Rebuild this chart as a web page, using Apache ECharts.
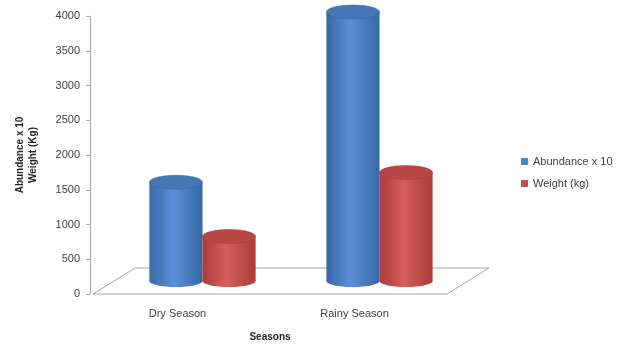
<!DOCTYPE html>
<html>
<head>
<meta charset="utf-8">
<script src="https://cdn.jsdelivr.net/npm/echarts@6/dist/echarts.min.js"></script>
<style>
  html, body { margin: 0; padding: 0; background: #fff; }
  #chart { width: 617px; height: 347px; }
</style>
</head>
<body>
<div id="chart"></div>
<script>
const categories = ['Dry Season', 'Rainy Season'];
const abundance = [1420, 3870];
const weight = [640, 1560];
const seriesNames = ['Abundance x 10', 'Weight (kg)'];

const font = 'Liberation Sans, Arial, sans-serif';
const depth = 13; // half depth of the 3D floor, px

// cylinder colours: edge, centre, top
const palette = [
  { base: '#4F81BD', edge: '#3767A6', mid: '#5B91D8', top: '#4576B5' },
  { base: '#C0504D', edge: '#A93B38', mid: '#D65F5B', top: '#B84744' }
]

function cylinder (side, colors) {
  return function (params, api) {
    const cat = api.value(0)
    const val = api.value(1)
    const base = api.coord([cat, 0])
    const top = api.coord([cat, val])
    const band = api.size([1, 0])[0]
    const w = band * 0.3
    const cx = base[0] + side * w / 2
    const x0 = cx - w / 2
    const baseY = base[1] - depth
    const topY = top[1] - depth
    const grad = new echarts.graphic.LinearGradient(0, 0, 1, 0, [
      { offset: 0, color: colors.edge },
      { offset: 0.45, color: colors.mid },
      { offset: 1, color: colors.edge }
    ])
    return {
      type: 'group',
      children: [
        { type: 'ellipse', shape: { cx: cx, cy: baseY, rx: w / 2, ry: 6 }, style: { fill: grad } },
        { type: 'rect', shape: { x: x0, y: topY, width: w, height: baseY - topY }, style: { fill: grad } },
        { type: 'ellipse', shape: { cx: cx, cy: topY, rx: w / 2, ry: 7 }, style: { fill: colors.top, stroke: colors.edge, lineWidth: 0.5 } }
      ]
    }
  }
}

function floor (params, api) {
  const cs = params.coordSys
  const bottom = cs.y + cs.height
  const back = bottom - 2 * depth
  const dx = 21
  return {
    type: 'polygon',
    shape: {
      points: [
        [cs.x - dx, bottom],
        [cs.x + cs.width - dx, bottom],
        [cs.x + cs.width + dx, back],
        [cs.x + dx, back]
      ]
    },
    style: { fill: '#fff', stroke: '#a6a6a6', lineWidth: 1 }
  }
}

const chart = echarts.init(document.getElementById('chart'))
chart.setOption({
  animation: false,
  backgroundColor: '#fff',
  textStyle: { fontFamily: font },
  grid: { left: 114, right: 149, top: 16, bottom: 49 },
  legend: {
    orient: 'vertical',
    left: 516,
    top: 151,
    itemWidth: 7,
    itemHeight: 7,
    itemGap: 11,
    icon: 'rect',
    data: seriesNames,
    textStyle: { fontSize: 11, color: '#404040', fontFamily: font }
  },
  xAxis: {
    type: 'category',
    data: categories,
    axisLine: { show: false },
    axisTick: { show: false },
    axisLabel: { fontSize: 11, color: '#404040', margin: 14, padding: [0, 50, 0, 0] },
    name: 'Seasons',
    nameLocation: 'middle',
    nameGap: 38,
    nameTextStyle: { fontSize: 10, fontWeight: 'bold', color: '#262626', padding: [0, 42, 0, 0] }
  },
  yAxis: {
    type: 'value',
    min: 0,
    max: 4000,
    interval: 500,
    offset: 24,
    splitLine: { show: false },
    axisLine: { show: true, lineStyle: { color: '#a6a6a6' } },
    axisTick: { show: true, length: 4, lineStyle: { color: '#a6a6a6' } },
    axisLabel: { fontSize: 11, color: '#404040', margin: 10, formatter: v => String(v) },
    name: 'Abundance x 10\nWeight (Kg)',
    nameLocation: 'middle',
    nameGap: 50,
    nameTextStyle: { fontSize: 10, fontWeight: 'bold', color: '#262626', lineHeight: 13 }
  },
  series: [
    {
      type: 'custom',
      name: 'floor',
      renderItem: floor,
      data: [[0, 0]],
      z: 1,
      silent: true
    },
    {
      type: 'custom',
      name: seriesNames[0],
      renderItem: cylinder(-1, palette[0]),
      itemStyle: { color: palette[0].base },
      encode: { x: 0, y: 1 },
      data: abundance.map((v, i) => [i, v]),
      z: 2
    },
    {
      type: 'custom',
      name: seriesNames[1],
      renderItem: cylinder(1, palette[1]),
      itemStyle: { color: palette[1].base },
      encode: { x: 0, y: 1 },
      data: weight.map((v, i) => [i, v]),
      z: 3
    }
  ]
})
</script>
</body>
</html>
